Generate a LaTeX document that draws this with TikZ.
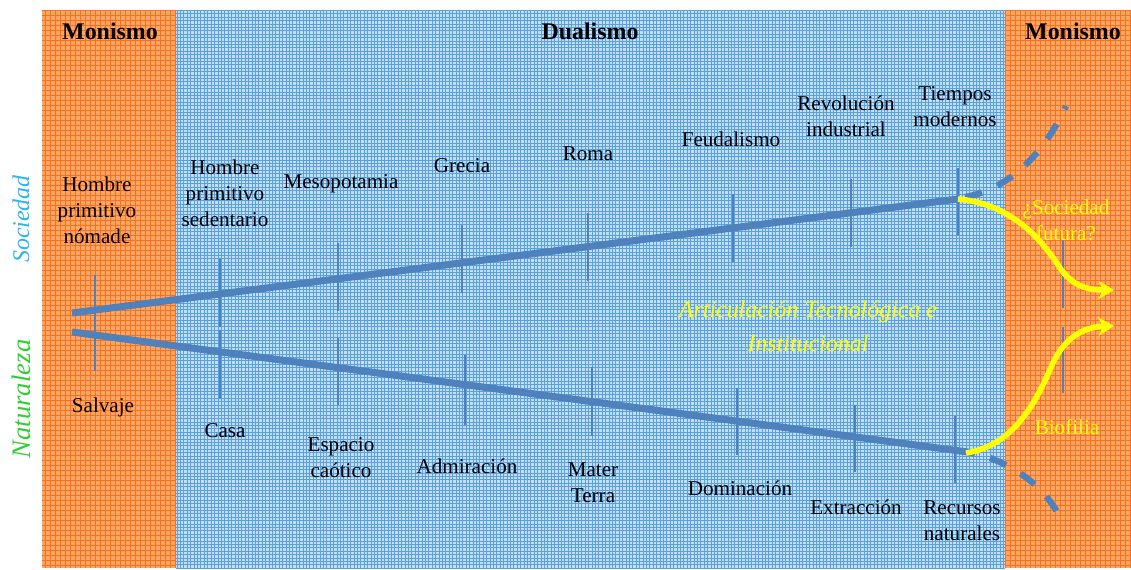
\documentclass[tikz,border=0pt]{standalone}
\usepackage{fontspec}
\setmainfont{Liberation Serif}
\usepackage{tikz}
\usetikzlibrary{positioning, arrows.meta, calc}
\definecolor{orbg}{RGB}{250,168,106}
\definecolor{orln}{RGB}{255,112,22}
\definecolor{blbg}{RGB}{196,222,244}
\definecolor{blln}{RGB}{88,160,222}
\definecolor{axisblue}{RGB}{79,129,189}
\definecolor{socblue}{RGB}{40,180,235}
\definecolor{natgreen}{RGB}{50,205,50}
\definecolor{futyellow}{RGB}{255,255,0}
\tikzset{
    era/.style={align=center, font=\fontsize{15}{18.5}\selectfont, text=black, inner sep=1pt},
    hdr/.style={font=\fontsize{17}{20}\selectfont\bfseries, text=black},
    side/.style={rotate=90, font=\itshape},
    axisline/.style={draw=axisblue, line width=5pt},
    dashline/.style={draw=axisblue, line width=4.5pt, dash pattern=on 12.5pt off 12pt},
    tickline/.style={draw=axisblue, line width=1pt},
    future/.style={draw=futyellow, line width=4pt, -{Stealth[length=11pt, width=13pt, inset=3pt]}}
}
\def\panels{%
    % orange side panels
    \fill[orbg] (42,10) rectangle (176,568);
    \fill[orbg] (1005,10) rectangle (1131,568);
    \draw[orln, line width=0.55pt, step=1.25mm] (42,568) grid (176,10);
    \draw[orln, line width=0.55pt, step=1.25mm] (1005,568) grid (1131,10);

    % blue middle panel
    \fill[blbg] (176,10) rectangle (1005,568);
    \draw[blln, line width=0.22pt, step=0.85mm] (176,568) grid (1005,10);
}

\begin{document}
\begin{tikzpicture}[x=0.025cm, y=-0.025cm]
    \useasboundingbox (0,0) rectangle (1131,570);
    \panels

    % headers
    \node[hdr] (mon1) at (110,31) {Monismo};
    \node[hdr] (dual) at (590,31) {Dualismo};
    \node[hdr] (mon2) at (1073,31) {Monismo};

    \node[side, text=socblue, font=\fontsize{17}{20}\selectfont\itshape] (soc) at (21,219) {Sociedad};
    \node[side, text=natgreen, font=\fontsize{19}{22}\selectfont\itshape] (nat) at (21,399) {Naturaleza};

    % ticks
    \foreach \x/\a/\b in {
        95/275/371,
        220/259/327, 338/243/311, 462/225/293, 588/213/281,
        733/194/262, 851/179/247, 958/168/235,
        220/330/398, 338/338/405, 465/355/425, 592/367/436,
        737/388/455, 855/405/472, 955/416/483,
        1063/240/308, 1063/327/393}{
        \draw[tickline] (\x,\a) -- (\x,\b);
    }

    \coordinate (s0) at (72,313);
    \coordinate (s1) at (958,199);
    \coordinate (n0) at (72,332);
    \coordinate (n1) at (975,453);
    \coordinate (sd0) at (965,197);
    \coordinate (sd1) at (1066,106);
    \coordinate (nd0) at (990,458);
    \coordinate (nd1) at (1062,521);
    \coordinate (nlink) at (966,453);
    \coordinate (fs) at (1114,290);
    \coordinate (fn) at (1114,326);

    % axes
    \draw[axisline] (s0) -- (s1);
    \draw[axisline] (n0) -- (n1);
    \draw[dashline] (sd0) .. controls (1010,189) and (1045,152) .. (sd1);
    \draw[dashline] (nd0) .. controls (1024,471) and (1048,492) .. (nd1);

    % future
    \draw[future] (s1) .. controls (1012,204) and (1042,240) .. (1060,268)
        .. controls (1072,286) and (1088,290) .. (fs);
    \draw[future] (nlink) .. controls (1012,446) and (1035,405) .. (1052,365)
        .. controls (1065,336) and (1085,327) .. (fn);

    % sociedad
    \node[era] (nomade) at (97,210) {Hombre\\primitivo\\nómade};
    \node[era] (sedent) at (225,193) {Hombre\\primitivo\\sedentario};
    \node[era] (meso) at (341,184) {Mesopotamia};
    \node[era] (grecia) at (462,166) {Grecia};
    \node[era] (roma) at (588,154) {Roma};
    \node[era] (feud) at (731,139) {Feudalismo};
    \node[era] (revol) at (846,116) {Revolución\\industrial};
    \node[era] (tiempos) at (955,107) {Tiempos\\modernos};
    \node[era, text=futyellow] (futura) at (1066,220) {¿Sociedad\\futura?};

    % naturaleza
    \node[era] (salvaje) at (103,407) {Salvaje};
    \node[era] (casa) at (225,431) {Casa};
    \node[era] (espacio) at (341,458) {Espacio\\caótico};
    \node[era] (admir) at (467,466) {Admiración};
    \node[era] (mater) at (593,483) {Mater\\Terra};
    \node[era] (domin) at (740,488) {Dominación};
    \node[era] (extrac) at (856,507) {Extracción};
    \node[era] (recur) at (962,521) {Recursos\\naturales};
    \node[era, text=futyellow] (biof) at (1067,427) {Biofilia};

    \node[align=center, text=futyellow, font=\fontsize{17}{24}\selectfont\itshape] (artic) at (808,326)
        {Articulación Tecnológica e\\Institucional};
\end{tikzpicture}
\end{document}
